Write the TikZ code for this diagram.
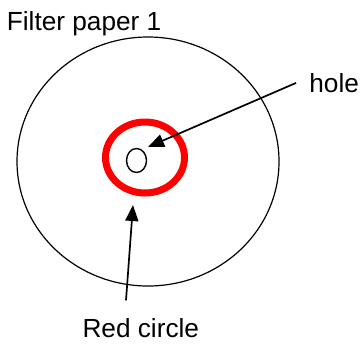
\documentclass[tikz,border=0pt]{standalone}
\usepackage{fontspec}
\setmainfont{Liberation Sans}
\usetikzlibrary{arrows.meta, positioning, shapes.geometric}

\begin{document}
\begin{tikzpicture}[
  x=0.5pt, y=-0.5pt,
  every node/.style={
    inner sep=0pt,
    font=\fontsize{13.1}{15}\selectfont
  },
  arrow/.style={-{Triangle[length=8pt, width=6.5pt]}, line width=0.85pt},
  paper/.style={draw, line width=0.6pt},
  ring/.style={draw=red, line width=3.5pt}
]
\useasboundingbox (0,0) rectangle (362,343);

% Filter paper
\draw[paper] (148,161.5) ellipse [x radius=65.5pt, y radius=62.25pt];

% Red circle and hole
\draw[ring] (145,157.5) ellipse [x radius=19.75pt, y radius=17.75pt];
\draw[line width=0.7pt] (136.5,160.5) ellipse [x radius=5pt, y radius=6pt];

% Labels
\node[anchor=base west] (title) at (6.5,30.7) {Filter paper 1};
\node[anchor=base west] (hole) at (309,92.3) {hole};
\node[anchor=base] (red) at (140.8,337.7) {Red circle};

% Arrows
\coordinate (holetip) at (148,147);
\coordinate (redtip) at (133,205);
\draw[arrow] ([xshift=-6.5pt]hole.west) -- (holetip);
\draw[arrow] ([xshift=-7.4pt, yshift=9pt]red.north) -- (redtip);

\end{tikzpicture}
\end{document}
